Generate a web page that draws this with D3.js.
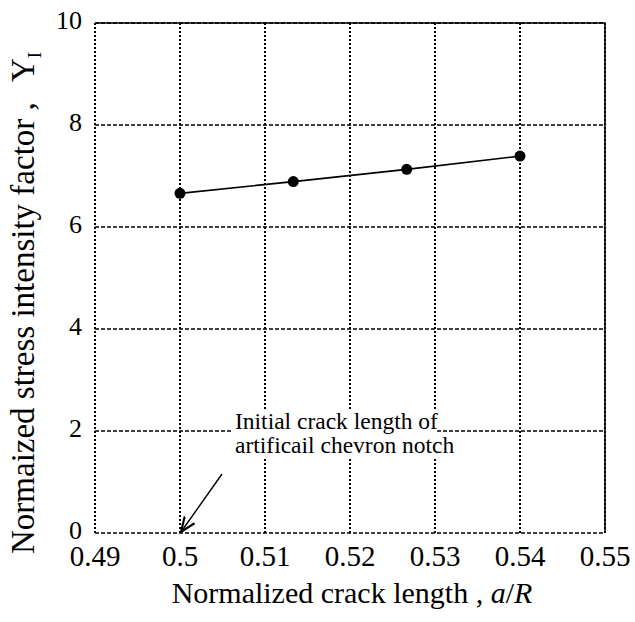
<!DOCTYPE html>
<html>
<head>
<meta charset="utf-8">
<script src="https://cdn.jsdelivr.net/npm/d3@7/dist/d3.min.js"></script>
<style>
  html, body { margin: 0; padding: 0; background: #fff; }
  svg { display: block; font-family: "Liberation Serif", "Times New Roman", serif; }
</style>
</head>
<body>
<svg id="chart" width="635" height="622"></svg>
<script>
// Normalized crack length a/R and normalized stress intensity factor Y_I
const crackLength = [0.5, 0.51333, 0.52667, 0.54];
const stressFactor = [6.66, 6.89, 7.13, 7.39];

const xTicks = [0.49, 0.5, 0.51, 0.52, 0.53, 0.54, 0.55];
const xTickLabels = ["0.49", "0.5", "0.51", "0.52", "0.53", "0.54", "0.55"];
const yTicks = [0, 2, 4, 6, 8, 10];
const yTickLabels = ["0", "2", "4", "6", "8", "10"];

const noteLines = ["Initial crack length of", "artificail chevron notch"];
const noteTarget = [0.5, 0];

const svg = d3.select("#chart");
const margin = { left: 95, top: 23, right: 30, bottom: 89 };
const W = 635, H = 622;
const pw = W - margin.left - margin.right;
const ph = H - margin.top - margin.bottom;

const x = d3.scaleLinear().domain([0.49, 0.55]).range([margin.left, margin.left + pw]);
const y = d3.scaleLinear().domain([0, 10]).range([margin.top + ph, margin.top]);

const g = svg.append("g");

// vertical grid (dotted)
g.append("g").selectAll("line").data(xTicks).join("line")
  .attr("x1", d => x(d)).attr("x2", d => x(d))
  .attr("y1", y(0)).attr("y2", y(10))
  .attr("stroke", "#000").attr("stroke-width", 2)
  .attr("stroke-dasharray", "2,2");

// horizontal grid (dashed)
g.append("g").selectAll("line").data(yTicks).join("line")
  .attr("x1", x(0.49)).attr("x2", x(0.55))
  .attr("y1", d => y(d)).attr("y2", d => y(d))
  .attr("stroke", "#000").attr("stroke-width", 1.6)
  .attr("stroke-dasharray", "4,2");

// solid top and right frame
g.append("path")
  .attr("d", `M${x(0.49)},${y(10)}H${x(0.55)}V${y(0)}`)
  .attr("fill", "none").attr("stroke", "#000").attr("stroke-width", 1.5);

// annotation text with white backing per line
const note = g.append("g");
const noteX = 235;
const noteY = [429, 453];
noteLines.forEach((t, i) => {
  const txt = note.append("text")
    .attr("x", noteX).attr("y", noteY[i])
    .attr("font-size", 23.5).attr("fill", "#000").text(t);
  const bb = txt.node().getBBox();
  note.insert("rect", "text")
    .attr("x", bb.x - 3).attr("y", bb.y + 2)
    .attr("width", bb.width + 2).attr("height", bb.height - 2)
    .attr("fill", "#fff");
});

// arrow to the initial crack length
const defs = svg.append("defs");
defs.append("marker").attr("id", "arrowhead")
  .attr("viewBox", "0 0 10 10").attr("refX", 10).attr("refY", 5)
  .attr("markerWidth", 15).attr("markerHeight", 15)
  .attr("markerUnits", "userSpaceOnUse")
  .attr("orient", "auto")
  .append("path").attr("d", "M0,1 L10,5 L0,9").attr("fill", "none")
  .attr("stroke", "#000").attr("stroke-width", 1.4);

g.append("line")
  .attr("x1", 222).attr("y1", 474)
  .attr("x2", x(noteTarget[0]) + 1).attr("y2", y(noteTarget[1]) - 1)
  .attr("stroke", "#000").attr("stroke-width", 1.4)
  .attr("marker-end", "url(#arrowhead)");

// data line and markers
const pts = crackLength.map((v, i) => [v, stressFactor[i]]);
g.append("path")
  .datum(pts)
  .attr("d", d3.line().x(d => x(d[0])).y(d => y(d[1])))
  .attr("fill", "none").attr("stroke", "#000").attr("stroke-width", 1.6);

g.append("g").selectAll("circle").data(pts).join("circle")
  .attr("cx", d => x(d[0])).attr("cy", d => y(d[1]))
  .attr("r", 5.5).attr("fill", "#000");

// tick labels
g.append("g").selectAll("text").data(xTicks).join("text")
  .attr("x", d => x(d)).attr("y", 566)
  .attr("text-anchor", "middle").attr("font-size", 29)
  .text((d, i) => xTickLabels[i]);

g.append("g").selectAll("text").data(yTicks).join("text")
  .attr("x", 82).attr("y", d => y(d) + 6)
  .attr("text-anchor", "end").attr("font-size", 26)
  .text((d, i) => yTickLabels[i]);

// axis titles
const xt = svg.append("text")
  .attr("x", margin.left + pw / 2 + 2).attr("y", 603)
  .attr("text-anchor", "middle").attr("font-size", 30);
xt.append("tspan").text("Normalized crack length , ");
xt.append("tspan").attr("font-style", "italic").text("a");
xt.append("tspan").text("/");
xt.append("tspan").attr("font-style", "italic").text("R");

const yt = svg.append("text")
  .attr("transform", "translate(34,554) rotate(-90)")
  .attr("text-anchor", "start").attr("font-size", 33);
yt.append("tspan").text("Normaized stress intensity factor ,");
yt.append("tspan").attr("x", 472).text("Y");
yt.append("tspan").attr("font-size", 19).attr("dy", 7).text("I");
</script>
</body>
</html>
